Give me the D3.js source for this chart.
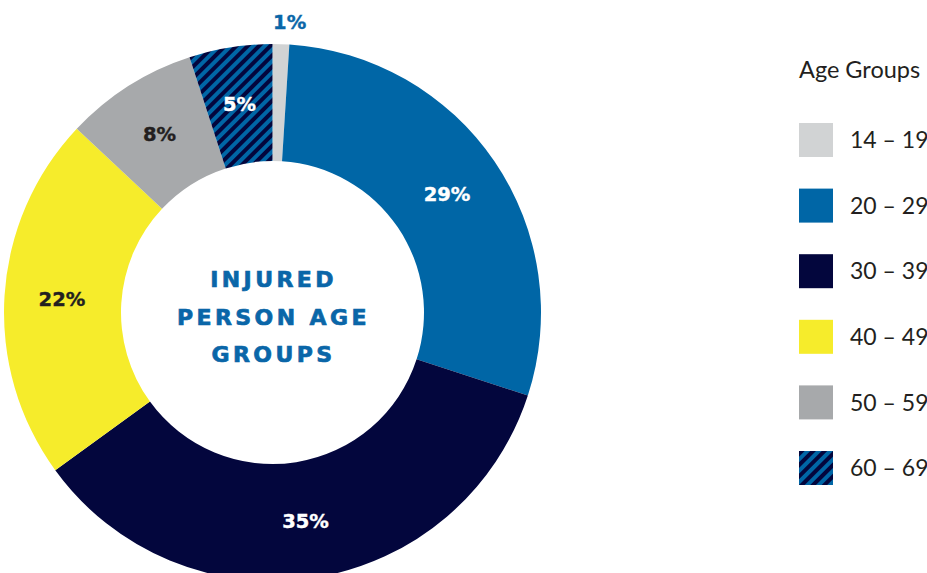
<!DOCTYPE html>
<html>
<head>
<meta charset="utf-8">
<script src="https://cdn.jsdelivr.net/npm/d3@7"></script>
<style>
  html, body { margin: 0; padding: 0; background: #ffffff; }
  svg { display: block; }
</style>
</head>
<body>
<svg id="chart" width="927" height="573"></svg>
<script>
// Age groups of injured persons, share in percent
const ageGroups = ["14 – 19", "20 – 29", "30 – 39", "40 – 49", "50 – 59", "60 – 69"];
const shares    = [1, 29, 35, 22, 8, 5];
const fills     = ["#d1d3d4", "#0066a6", "#03063d", "#f6ec2b", "#a7a9ab", "url(#hatch)"];
const labelInk  = ["#0a66a8", "#ffffff", "#ffffff", "#231f20", "#231f20", "#ffffff"];
const titleLines = ["INJURED", "PERSON AGE", "GROUPS"];
const legendTitle = "Age Groups";

const svg = d3.select("#chart");

// Diagonal navy / blue stripes for the oldest group
const defs = svg.append("defs");
const hatch = defs.append("pattern")
  .attr("id", "hatch")
  .attr("patternUnits", "userSpaceOnUse")
  .attr("width", 8).attr("height", 8)
  .attr("patternTransform", "rotate(45)");
hatch.append("rect").attr("width", 8).attr("height", 8).attr("fill", "#0066a6");
hatch.append("rect").attr("width", 4).attr("height", 8).attr("fill", "#03063d");

const cx = 272.5, cy = 312.5;
const outerR = 268.5, innerR = 151.5;

const pie = d3.pie().sort(null).value(d => d.value);
const arcs = pie(ageGroups.map((g, i) => ({ group: g, value: shares[i], i })));

const arc = d3.arc().innerRadius(innerR).outerRadius(outerR);
const labelArc = d3.arc().innerRadius(211).outerRadius(211);
const outsideArc = d3.arc().innerRadius(291).outerRadius(291);

const ring = svg.append("g").attr("transform", `translate(${cx},${cy})`);

ring.selectAll("path.slice")
  .data(arcs)
  .join("path")
  .attr("class", "slice")
  .attr("d", arc)
  .attr("fill", d => fills[d.data.i]);

// Percentage labels: inside the ring, or above it when the slice is too thin
ring.selectAll("text.pct")
  .data(arcs)
  .join("text")
  .attr("class", "pct")
  .each(function(d) {
    const thin = d.data.value < 3;
    const [x, y] = thin ? outsideArc.centroid(d) : labelArc.centroid(d);
    d3.select(this)
      .attr("x", thin ? x + 8 : x)
      .attr("y", y)
      .attr("text-anchor", "middle");
  })
  .attr("dy", "0.36em")
  .attr("font-family", "'DejaVu Sans', sans-serif")
  .attr("font-weight", "bold")
  .attr("font-size", 19.5)
  .attr("fill", d => labelInk[d.data.i])
  .attr("stroke", d => labelInk[d.data.i])
  .attr("stroke-width", 0.4)
  .text(d => d.data.value + "%");

// Centre title
const title = svg.append("text")
  .attr("text-anchor", "middle")
  .attr("font-family", "'DejaVu Sans', sans-serif")
  .attr("font-weight", "bold")
  .attr("font-size", 22)
  .attr("letter-spacing", 3.4)
  .attr("fill", "#0a66a8")
  .attr("stroke", "#0a66a8")
  .attr("stroke-width", 0.7);
titleLines.forEach((line, k) => {
  title.append("tspan")
    .attr("x", cx + 1)
    .attr("y", 287 + k * 37.5)
    .text(line);
});

// Legend
const legend = svg.append("g").attr("transform", "translate(799,0)");
legend.append("text")
  .attr("x", 0).attr("y", 78)
  .attr("font-family", "Lato, sans-serif")
  .attr("font-size", 23.5)
  .attr("fill", "#231f20")
  .text(legendTitle);

const rowY = d3.scalePoint().domain(ageGroups).range([123, 451]);

const rows = legend.selectAll("g.row")
  .data(ageGroups)
  .join("g")
  .attr("class", "row")
  .attr("transform", d => `translate(0,${rowY(d)})`);

rows.append("rect")
  .attr("width", 34).attr("height", 34)
  .attr("fill", (d, i) => fills[i]);

rows.append("text")
  .attr("x", 51).attr("y", 17)
  .attr("dy", "0.36em")
  .attr("font-family", "Lato, sans-serif")
  .attr("font-size", 23)
  .attr("fill", "#231f20")
  .text(d => d);
</script>
</body>
</html>
